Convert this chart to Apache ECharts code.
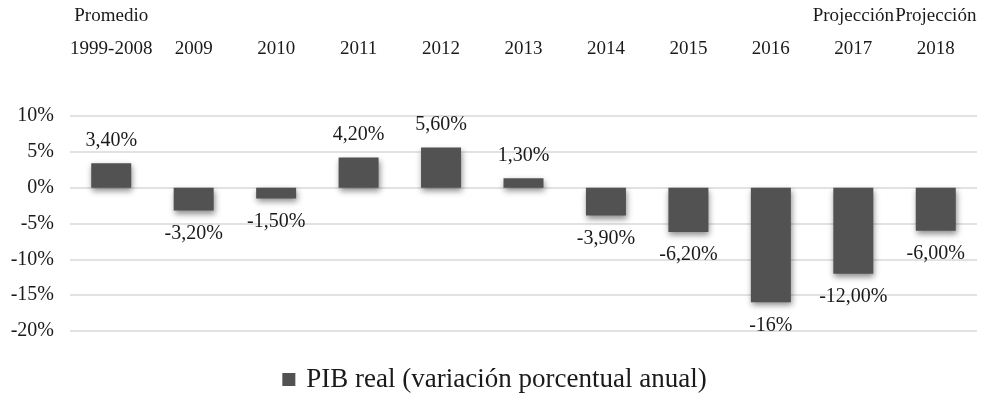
<!DOCTYPE html>
<html>
<head>
<meta charset="utf-8">
<script src="https://cdn.jsdelivr.net/npm/echarts@6/dist/echarts.min.js"></script>
<style>
html,body{margin:0;padding:0;background:#fff;}
#chart{width:989px;height:403px;}
</style>
</head>
<body>
<div id="chart"></div>
<script>
var categories = ['Promedio\n1999-2008', '2009', '2010', '2011', '2012', '2013', '2014', '2015', '2016', 'Projección\n2017', 'Projección\n2018'];
var values = [3.4, -3.2, -1.5, 4.2, 5.6, 1.3, -3.9, -6.2, -16, -12, -6];
var valueLabels = ['3,40%', '-3,20%', '-1,50%', '4,20%', '5,60%', '1,30%', '-3,90%', '-6,20%', '-16%', '-12,00%', '-6,00%'];
var seriesName = 'PIB real (variación porcentual anual)';

var FONT = '"Liberation Serif", "DejaVu Serif", serif';
var chart = echarts.init(document.getElementById('chart'));
var data = values.map(function (v, i) {
  return {
    value: v,
    label: {
      position: v >= 0 ? 'top' : 'bottom',
      formatter: valueLabels[i]
    }
  };
});
chart.setOption({
  animation: false,
  textStyle: { fontFamily: FONT },
  grid: { left: 70, right: 12, top: 109, bottom: 72 },
  legend: {
    bottom: 5,
    left: 'center',
    itemWidth: 13,
    itemHeight: 13,
    icon: 'rect',
    textStyle: { fontFamily: FONT, fontSize: 27, color: '#1a1a1a', padding: [0, 0, 0, 6] },
    data: [seriesName]
  },
  xAxis: {
    type: 'category',
    position: 'top',
    data: categories,
    axisLine: { show: false },
    axisTick: { show: false },
    axisLabel: {
      fontFamily: FONT,
      fontSize: 19,
      color: '#1a1a1a',
      lineHeight: 33,
      margin: 50,
      interval: 0
    }
  },
  yAxis: {
    type: 'value',
    min: -20,
    max: 10,
    interval: 5,
    axisLine: { show: false },
    axisTick: { show: false },
    splitLine: { lineStyle: { color: '#d9d9d9', width: 1.5 } },
    axisLabel: {
      fontFamily: FONT,
      fontSize: 20,
      color: '#1a1a1a',
      margin: 16,
      formatter: function (v) { return v + '%'; }
    }
  },
  series: [{
    name: seriesName,
    type: 'bar',
    data: data,
    barWidth: 40,
    itemStyle: {
      color: '#525252',
      shadowBlur: 6,
      shadowColor: 'rgba(0,0,0,0.45)',
      shadowOffsetX: 1,
      shadowOffsetY: 3
    },
    label: {
      show: true,
      distance: 13,
      fontFamily: FONT,
      fontSize: 20,
      color: '#1a1a1a'
    }
  }]
});
</script>
</body>
</html>
